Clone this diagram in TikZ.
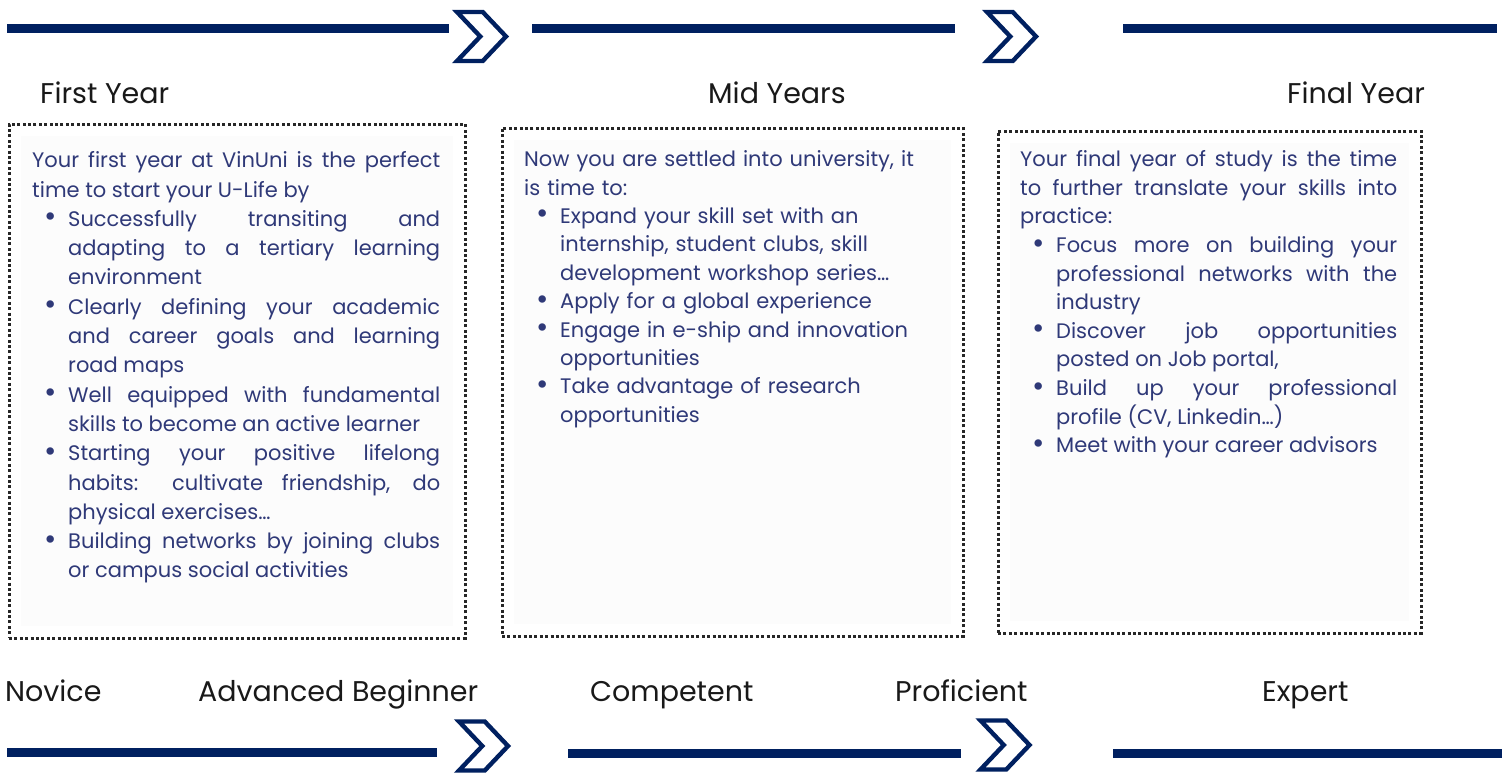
\documentclass[tikz,border=0pt]{standalone}
\usepackage{fontspec}
\setmainfont{Poppins}
\usepackage{enumitem}
\usetikzlibrary{shapes.symbols, positioning}

\definecolor{navy}{RGB}{0,32,96}
\definecolor{inkblue}{RGB}{47,57,120}
\definecolor{panel}{RGB}{252,252,252}

\newlist{points}{itemize}{1}
\setlist[points]{label={\raisebox{-0.5pt}{\fontsize{30}{30}\selectfont\textbullet}}, leftmargin=36pt, labelsep=11pt, nosep}
\hyphenpenalty=10000
\exhyphenpenalty=10000

\begin{document}
\begin{tikzpicture}[x=1pt, y=-1pt,
  bar/.style = {draw=navy, line width=9pt},
  chevron/.style = {signal, signal to=east, signal from=west, signal pointer angle=93, draw=navy, line width=4.4pt, fill=white, minimum width=49pt, minimum height=49pt, inner sep=0pt},
  card/.style = {draw=black!85, line width=3pt, dash pattern=on 3pt off 2.4pt, fill=white, inner sep=0pt,
    path picture={\fill[panel] ([shift={(12pt,-12pt)}]path picture bounding box.north west) rectangle ([shift={(-12pt,12pt)}]path picture bounding box.south east);}},
  stage/.style = {font=\fontsize{28.5}{34}\selectfont, text=black!90, anchor=base west, inner sep=0pt},
  body/.style = {font=\fontsize{21}{29.3}\selectfont, text=inkblue, anchor=north west, inner sep=0pt}
]
  \useasboundingbox (0,0) rectangle (1509,772);

  % Timeline top
  \node[chevron] (c1) at (481.5,36.5) {};
  \node[chevron] (c2) at (1011.5,36.5) {};
  \coordinate (ta) at (7,28.5);
  \coordinate (tb) at (449,28.5);
  \coordinate (tc) at (532,28.5);
  \coordinate (td) at (955,28.5);
  \coordinate (te) at (1123,28.5);
  \coordinate (tf) at (1497,28.5);
  \draw[bar] (ta) -- (tb);
  \draw[bar] (tc) -- (td);
  \draw[bar] (te) -- (tf);

  % Years
  \node[stage] (first) at (40,103) {First Year};
  \node[stage] (mid) at (708,103) {Mid Years};
  \node[stage] (final) at (1287,103) {Final Year};

  % Boxes
  \node[card, minimum width=456pt, minimum height=514pt] (box1) at (237,381) {};
  \node[card, minimum width=461pt, minimum height=508pt] (box2) at (732.5,382) {};
  \node[card, minimum width=423pt, minimum height=502pt] (box3) at (1209.5,382) {};

  \node[body, text width=408pt, align=justify] (text1) at (32,147) {\strut Your first year at VinUni is the perfect\linebreak time to start your U-Life by
    \begin{points}
      \item Successfully transiting and\linebreak adapting to a tertiary learning\linebreak environment
      \item Clearly defining your academic\linebreak and career goals and learning\linebreak road maps
      \item Well equipped with fundamental\linebreak skills to become an active learner
      \item Starting your positive lifelong\linebreak habits: cultivate friendship, do\linebreak physical exercises…
      \item Building networks by joining clubs\linebreak or campus social activities
    \end{points}};

  \node[body, font=\fontsize{21}{28.4}\selectfont, text width=410pt, align=left] (text2) at (524,146.6) {\strut Now you are settled into university, it\\ is time to:
    \begin{points}
      \item Expand your skill set with an\\ internship, student clubs, skill\\ development workshop series…
      \item Apply for a global experience
      \item Engage in e-ship and innovation\\ opportunities
      \item Take advantage of research\\ opportunities
    \end{points}};

  \node[body, font=\fontsize{21}{28.6}\selectfont, text width=377pt, align=justify] (text3) at (1020,146.5) {\strut Your final year of study is the time\linebreak to further translate your skills into\linebreak practice:
    \begin{points}
      \item Focus more on building your\linebreak professional networks with the\linebreak industry
      \item Discover job opportunities\linebreak posted on Job portal,
      \item Build up your professional\linebreak profile (CV, Linkedin…)
      \item Meet with your career advisors
    \end{points}};

  % Levels
  \node[stage] (novice) at (5,701) {Novice};
  \node[stage] (beginner) at (198,701) {Advanced Beginner};
  \node[stage] (competent) at (590,701) {Competent};
  \node[stage] (proficient) at (895,701) {Proficient};
  \node[stage] (expert) at (1262,701) {Expert};

  % Timeline bottom
  \node[chevron] (c3) at (483.5,746) {};
  \node[chevron] (c4) at (1005,745) {};
  \coordinate (ba) at (7,752);
  \coordinate (bb) at (437,752);
  \coordinate (bc) at (568,753);
  \coordinate (bd) at (961,753);
  \coordinate (be) at (1113,753);
  \coordinate (bf) at (1502,753);
  \draw[bar] (ba) -- (bb);
  \draw[bar] (bc) -- (bd);
  \draw[bar] (be) -- (bf);

\end{tikzpicture}
\end{document}
